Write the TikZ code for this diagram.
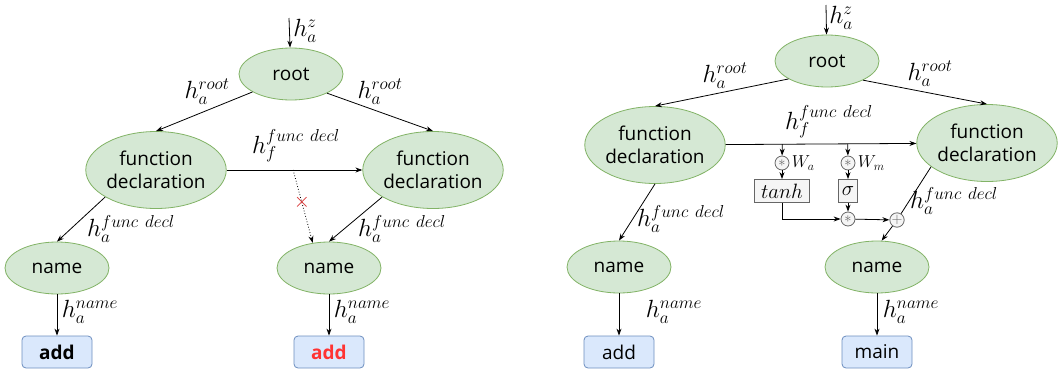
\documentclass[tikz,border=0pt]{standalone}
\usepackage{fontspec}
\setmainfont{Open Sans}
\usetikzlibrary{arrows.meta,shapes.geometric,positioning}
\definecolor{grnfill}{HTML}{D5E8D4}
\definecolor{grnline}{HTML}{82B366}
\definecolor{blufill}{HTML}{DAE8FC}
\definecolor{bluline}{HTML}{6C8EBF}
\definecolor{gryfill}{HTML}{F5F5F5}
\definecolor{gryline}{HTML}{666666}
\definecolor{redtxt}{HTML}{FF3333}
\definecolor{redx}{HTML}{D62828}
\tikzstyle{ast} = [ellipse, draw=grnline, fill=grnfill, minimum width=104pt, minimum height=52pt, inner sep=0pt, font=\fontsize{19}{23}\selectfont]
\tikzstyle{decl} = [ast, minimum width=140pt, minimum height=77pt, align=center]
\tikzstyle{tok} = [rectangle, rounded corners=4pt, draw=bluline, fill=blufill, minimum width=70pt, minimum height=32pt, inner sep=0pt, font=\fontsize{19}{23}\selectfont]
\tikzstyle{lbl} = [inner sep=0pt, font=\fontsize{26}{30}\selectfont]
\tikzstyle{wlbl} = [inner sep=0pt, font=\fontsize{18}{21}\selectfont]
\tikzstyle{op} = [circle, draw=gryline, fill=gryfill, minimum size=14pt, inner sep=0pt, text=gryline, font=\fontsize{15}{15}\selectfont]
\tikzstyle{act} = [rectangle, draw=gryline, fill=gryfill, minimum height=23pt, inner sep=1pt, font=\fontsize{20}{23}\selectfont]

\begin{document}
\begin{tikzpicture}[x=1pt, y=-1pt, line width=0.8pt, >={Stealth[length=7pt,width=5pt]}]
        \useasboundingbox (0,0) rectangle (1063,370);

        % left tree
        \coordinate (a0) at (289,18);
        \node[ast] (a1) at (291,74) {root};
        \node[decl] (a2) at (156,170) {function\\declaration};
        \node[decl] (a3) at (433,170) {function\\declaration};
        \node[ast] (a4) at (57,268) {name};
        \node[ast] (a5) at (329,268) {name};
        \node[tok] (a6) at (57,352) {\textbf{add}};
        \node[tok, text=redtxt] (a7) at (329,352) {\textbf{add}};

        \node[lbl] (c0) at (305,31) {$h_a^z$};
        \node[lbl] (c1) at (207,92) {$h_a^{root}$};
        \node[lbl] (c2) at (380,92) {$h_a^{root}$};
        \node[lbl] (c3) at (296,146) {$h_f^{func\ decl}$};
        \node[lbl] (c4) at (131,229) {$h_a^{func\ decl}$};
        \node[lbl] (c5) at (402,229) {$h_a^{func\ decl}$};
        \node[lbl] (c6) at (90,312) {$h_a^{name}$};
        \node[lbl] (c7) at (362,312) {$h_a^{name}$};

        \draw[->] (a0) -- (a1);
        \draw[->] (a1.205) -- (a2.north);
        \draw[->] (a1.332) -- (a3.north);
        \draw[->] (a2) -- coordinate[pos=0.49] (d1) (a3);
        \draw[->, dotted] (d1) -- node[pos=0.45, text=redx, inner sep=0pt, font=\fontsize{22}{22}\selectfont] (x1) {$\times$} (a5.123);
        \draw[->] (a2.208) -- (a4.north);
        \draw[->] (a3.208) -- (a5.north);
        \draw[->] (a4) -- (a6);
        \draw[->] (a5) -- (a7);

        % right tree with gate
        \coordinate (b0) at (826,5);
        \node[ast] (b1) at (827,61) {root};
        \node[decl] (b2) at (655,145) {function\\declaration};
        \node[decl] (b3) at (987,143) {function\\declaration};
        \node[ast] (b4) at (619,267) {name};
        \node[ast] (b5) at (877,267) {name};
        \node[tok] (b6) at (619,352) {add};
        \node[tok] (b7) at (877,352) {main};

        \node[op] (g1) at (782,163) {$\ast$};
        \node[op] (g2) at (848,163) {$\ast$};
        \node[act, minimum width=55pt] (g3) at (782,191) {$tanh$};
        \node[act, minimum width=19pt] (g4) at (848,191) {$\sigma$};
        \node[op] (g5) at (848,219) {$\ast$};
        \node[op] (g6) at (897,220) {$+$};
        \node[wlbl, right=2pt of g1] (w1) {$W_a$};
        \node[wlbl, right=2pt of g2] (w2) {$W_m$};

        \node[lbl] (e0) at (841,18) {$h_a^z$};
        \node[lbl] (e1) at (725,76) {$h_a^{root}$};
        \node[lbl] (e2) at (930,74) {$h_a^{root}$};
        \node[lbl] (e3) at (829,122) {$h_f^{func\ decl}$};
        \node[lbl] (e4) at (681,219) {$h_a^{func\ decl}$};
        \node[lbl] (e5) at (954,201) {$h_a^{func\ decl}$};
        \node[lbl] (e6) at (674,312) {$h_a^{name}$};
        \node[lbl] (e7) at (911,312) {$h_a^{name}$};

        \draw[->] (b0) -- (b1);
        \draw[->] (b1.205) -- (b2.north);
        \draw[->] (b1.332) -- (b3.north);
        \draw[->] (b2) -- coordinate[pos=0.297] (t1) coordinate[pos=0.64] (t2) (b3);
        \draw[->] (t1) -- (g1);
        \draw[->] (t2) -- (g2);
        \draw[->] (g1) -- (g3);
        \draw[->] (g2) -- (g4);
        \draw[->] (g4) -- (g5);
        \draw[->] (g3) |- (g5);
        \draw[->] (g5) -- (g6);
        \draw (b3.203) -- (g6);
        \draw[->] (g6) -- (b5.80);
        \draw[->] (b2.south) -- (b4.north);
        \draw[->] (b4) -- (b6);
        \draw[->] (b5) -- (b7);

    \end{tikzpicture}
\end{document}
